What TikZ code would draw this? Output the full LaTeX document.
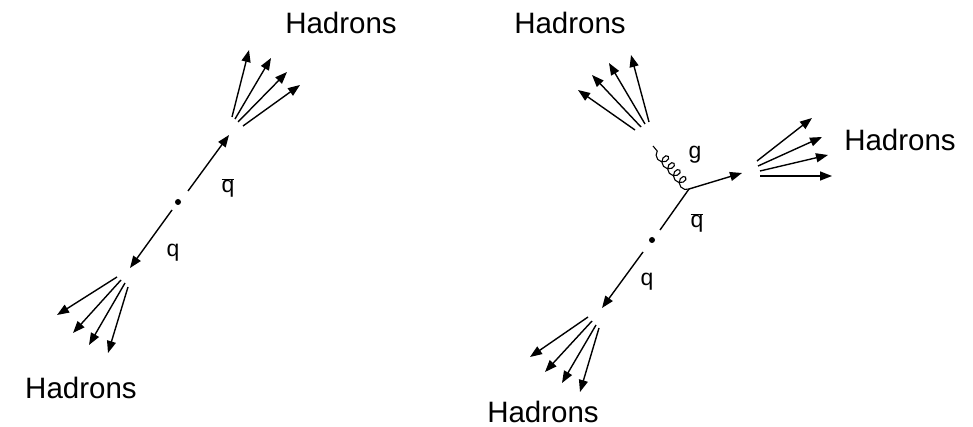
\documentclass[tikz,border=0pt]{standalone}
\usepackage{fontspec}
\setmainfont{Liberation Sans}
\usetikzlibrary{arrows.meta,decorations.pathmorphing}
\begin{document}
\begin{tikzpicture}[x=1pt,y=-1pt,
  line width=1.4pt,
  arr/.style={-{Triangle[length=12pt,width=9pt]}},
  big/.style={font=\fontsize{29.5}{34}\selectfont, inner sep=0pt},
  lab/.style={font=\fontsize{23}{27}\selectfont, inner sep=0pt, anchor=base},
  gluon/.style={decorate, decoration={coil, aspect=0.9, segment length=9pt, amplitude=5pt}}]
\useasboundingbox (0,0) rectangle (973,427);

% ---------------- left event ----------------
\fill (178,202) circle (3pt);
\coordinate (Lc) at (178,202);
\coordinate (La1) at (188,191); \coordinate (La2) at (229,135);
\coordinate (Lb1) at (172,210); \coordinate (Lb2) at (130,268);
\draw[arr] (La1) -- (La2);
\draw[arr] (Lb1) -- (Lb2);
\node[lab] (Lqbar) at (228,193) {$\overline{\mbox{q}}$};
\node[lab] (Lq) at (173,257) {q};
% upper fan
\coordinate (Lu1o) at (232,117); \coordinate (Lu1t) at (249,50);
\coordinate (Lu2o) at (235,119); \coordinate (Lu2t) at (271,58);
\coordinate (Lu3o) at (238,122); \coordinate (Lu3t) at (287,72);
\coordinate (Lu4o) at (243,126); \coordinate (Lu4t) at (300,85);
\foreach \i in {1,...,4} \draw[arr] (Lu\i o) -- (Lu\i t);
% lower fan
\coordinate (Ld1o) at (117,277); \coordinate (Ld1t) at (57,315);
\coordinate (Ld2o) at (121,280); \coordinate (Ld2t) at (73,333);
\coordinate (Ld3o) at (125,283); \coordinate (Ld3t) at (89,345);
\coordinate (Ld4o) at (128,287); \coordinate (Ld4t) at (108,353);
\foreach \i in {1,...,4} \draw[arr] (Ld\i o) -- (Ld\i t);
\node[big] (LHtop) at (341,23) {Hadrons};
\node[big] (LHbot) at (81,388) {Hadrons};

% ---------------- right event ----------------
\fill (652,240) circle (3pt);
\coordinate (Rc) at (652,240);
\coordinate (Rv) at (689,189);
\coordinate (Ra1) at (660,230);
\draw (Ra1) -- (Rv);
\coordinate (Rout) at (742,173);
\draw[arr] (Rv) -- (Rout);
\coordinate (Rg) at (653,146);
\draw[gluon, line width=1.1pt] (Rv) -- (Rg);
\coordinate (Rb1) at (643,252); \coordinate (Rb2) at (602,308);
\draw[arr] (Rb1) -- (Rb2);
\node[lab] (Rg lab) at (695,159) {g};
\node[lab] (Rqbar) at (697,228) {$\overline{\mbox{q}}$};
\node[lab] (Rq) at (647,286) {q};
% upper-left fan
\coordinate (Ru1o) at (635,130); \coordinate (Ru1t) at (578,90);
\coordinate (Ru2o) at (641,127); \coordinate (Ru2t) at (592,75);
\coordinate (Ru3o) at (645,124); \coordinate (Ru3t) at (609,63);
\coordinate (Ru4o) at (649,122); \coordinate (Ru4t) at (631,55);
\foreach \i in {1,...,4} \draw[arr] (Ru\i o) -- (Ru\i t);
% right fan
\coordinate (Rr1o) at (757,161); \coordinate (Rr1t) at (812,118);
\coordinate (Rr2o) at (758,166); \coordinate (Rr2t) at (822,137);
\coordinate (Rr3o) at (760,171); \coordinate (Rr3t) at (828,155);
\coordinate (Rr4o) at (760,176); \coordinate (Rr4t) at (832,176);
\foreach \i in {1,...,4} \draw[arr] (Rr\i o) -- (Rr\i t);
% lower fan
\coordinate (Rd1o) at (588,317); \coordinate (Rd1t) at (530,357);
\coordinate (Rd2o) at (592,321); \coordinate (Rd2t) at (545,372);
\coordinate (Rd3o) at (596,325); \coordinate (Rd3t) at (562,383);
\coordinate (Rd4o) at (599,328); \coordinate (Rd4t) at (580,392);
\foreach \i in {1,...,4} \draw[arr] (Rd\i o) -- (Rd\i t);
\node[big] (RHtop) at (570,23) {Hadrons};
\node[big] (RHright) at (900,140) {Hadrons};
\node[big] (RHbot) at (543,412) {Hadrons};
\end{tikzpicture}
\end{document}
